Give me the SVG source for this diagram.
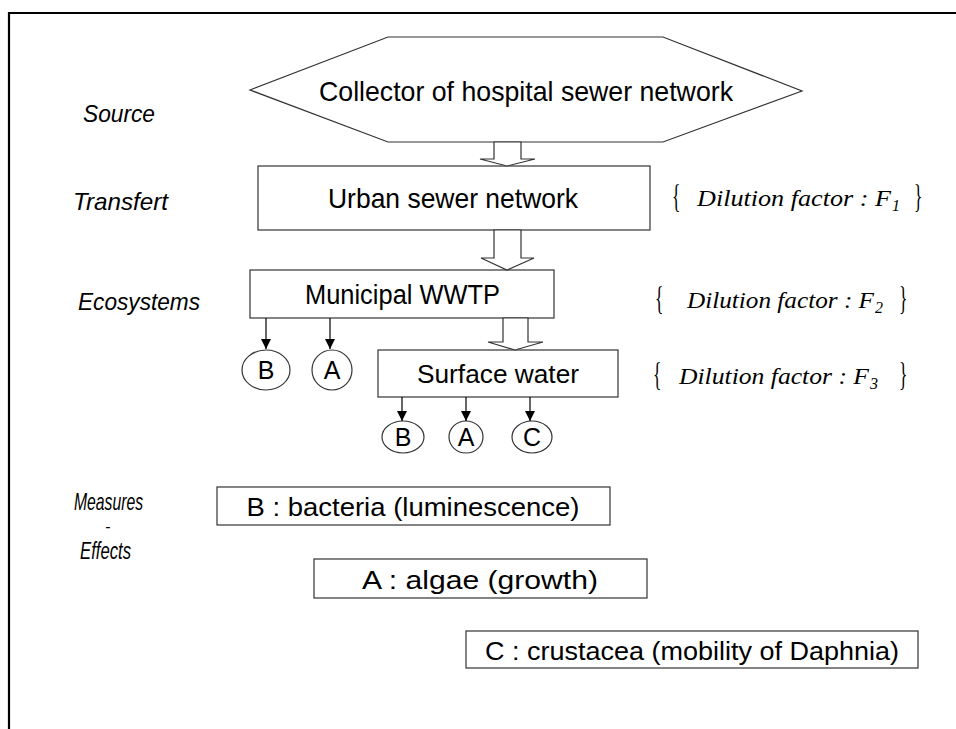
<svg xmlns="http://www.w3.org/2000/svg" width="956" height="729" viewBox="0 0 956 729">
<style>
.frame{fill:none;stroke:#000;stroke-width:2.2}
.box{fill:#fff;stroke:#333;stroke-width:1.2}
.hollow{fill:#fff;stroke:#333;stroke-width:1.2}
.t{font-family:"Liberation Sans",Arial,sans-serif;fill:#000}
.lbl{font-family:"Liberation Sans",Arial,sans-serif;font-style:italic;fill:#000;font-size:24px}
.math{font-family:"Liberation Serif","Times New Roman",serif;font-style:italic;fill:#000;font-size:24px}
.sub{font-family:"Liberation Serif","Times New Roman",serif;font-style:italic;fill:#000;font-size:16px}
.brace{font-family:"Liberation Serif","Times New Roman",serif;fill:#000;font-size:22px}
.link{stroke:#000;stroke-width:1.2;fill:none}
</style>
<defs>
<marker id="ah" markerWidth="10" markerHeight="11" refX="10" refY="5" orient="auto" markerUnits="userSpaceOnUse">
<path d="M0,0 L10,5 L0,10 Z" fill="#000"/>
</marker>
</defs>
<path class="frame" d="M9,729 V13 H956"/>

<g id="labels">
<text class="lbl" x="83" y="122" textLength="72" lengthAdjust="spacingAndGlyphs">Source</text>
<text class="lbl" x="73" y="210" textLength="95" lengthAdjust="spacingAndGlyphs">Transfert</text>
<text class="lbl" x="78" y="310" textLength="122" lengthAdjust="spacingAndGlyphs">Ecosystems</text>
<text class="lbl" x="74" y="510" textLength="69" lengthAdjust="spacingAndGlyphs">Measures</text>
<text class="lbl" x="105" y="532" font-size="16" style="font-size:16px">-</text>
<text class="lbl" x="80" y="559" textLength="51" lengthAdjust="spacingAndGlyphs">Effects</text>
</g>

<g id="collector">
<polygon class="box" points="250,90 388,37 663,37 802,91 663,142 388,142"/>
<text class="t" x="319" y="101" font-size="28" textLength="414" lengthAdjust="spacingAndGlyphs">Collector of hospital sewer network</text>
</g>

<g id="urban">
<rect class="box" x="258" y="166" width="392" height="64"/>
<text class="t" x="328" y="208" font-size="28" textLength="250" lengthAdjust="spacingAndGlyphs">Urban sewer network</text>
</g>

<g id="wwtp">
<rect class="box" x="250" y="270" width="304" height="48"/>
<text class="t" x="305" y="304" font-size="27" textLength="195" lengthAdjust="spacingAndGlyphs">Municipal WWTP</text>
</g>

<g id="surface">
<rect class="box" x="378" y="350" width="240" height="47"/>
<text class="t" x="417" y="383" font-size="26" textLength="162" lengthAdjust="spacingAndGlyphs">Surface water</text>
</g>

<g id="f1">
<text class="brace" transform="translate(672,207) scale(0.8,1.5)">{</text>
<text class="math" x="697" y="206" textLength="194" lengthAdjust="spacingAndGlyphs">Dilution  factor : F</text>
<text class="sub" x="892" y="211">1</text>
<text class="brace" transform="translate(914,207) scale(0.8,1.5)">}</text>
</g>
<g id="f2">
<text class="brace" transform="translate(655,309) scale(0.8,1.5)">{</text>
<text class="math" x="687" y="308" textLength="187" lengthAdjust="spacingAndGlyphs">Dilution factor : F</text>
<text class="sub" x="875" y="313">2</text>
<text class="brace" transform="translate(899,309) scale(0.8,1.5)">}</text>
</g>
<g id="f3">
<text class="brace" transform="translate(653,385) scale(0.8,1.5)">{</text>
<text class="math" x="679" y="384" textLength="190" lengthAdjust="spacingAndGlyphs">Dilution  factor : F</text>
<text class="sub" x="870" y="389">3</text>
<text class="brace" transform="translate(899,385) scale(0.8,1.5)">}</text>
</g>

<g id="circle-b1"><ellipse class="box" cx="266" cy="370" rx="24" ry="20"/><text class="t" x="266" y="379" font-size="25" text-anchor="middle">B</text></g>
<g id="circle-a1"><ellipse class="box" cx="332" cy="370" rx="20" ry="20"/><text class="t" x="332" y="379" font-size="25" text-anchor="middle">A</text></g>
<g id="circle-b2"><ellipse class="box" cx="403" cy="437" rx="21" ry="16"/><text class="t" x="403" y="446" font-size="25" text-anchor="middle">B</text></g>
<g id="circle-a2"><ellipse class="box" cx="466" cy="437" rx="17" ry="16"/><text class="t" x="466" y="446" font-size="25" text-anchor="middle">A</text></g>
<g id="circle-c2"><ellipse class="box" cx="532" cy="437" rx="20" ry="16"/><text class="t" x="532" y="446" font-size="25" text-anchor="middle">C</text></g>

<g id="legend-b">
<rect class="box" x="217" y="487" width="393" height="38"/>
<text class="t" x="413" y="516" font-size="26" text-anchor="middle" textLength="333" lengthAdjust="spacingAndGlyphs">B : bacteria (luminescence)</text>
</g>
<g id="legend-a">
<rect class="box" x="314" y="559" width="333" height="39"/>
<text class="t" x="480" y="589" font-size="26" text-anchor="middle" textLength="236" lengthAdjust="spacingAndGlyphs">A : algae (growth)</text>
</g>
<g id="legend-c">
<rect class="box" x="466" y="631" width="452" height="37"/>
<text class="t" x="692" y="660" font-size="26" text-anchor="middle" textLength="414" lengthAdjust="spacingAndGlyphs">C : crustacea (mobility of Daphnia)</text>
</g>

<g id="connectors">
<polygon class="hollow" points="494,142 494,159 480,159 507,166 535,159 521,159 521,142"/>
<polygon class="hollow" points="494,230 494,258 481,258 507,270 534,258 521,258 521,230"/>
<polygon class="hollow" points="503,318 503,342 488,342 515,350 543,342 528,342 528,318"/>
<line class="link" x1="266" y1="318" x2="266" y2="349" marker-end="url(#ah)"/>
<line class="link" x1="330" y1="318" x2="330" y2="349" marker-end="url(#ah)"/>
<line class="link" x1="402" y1="397" x2="402" y2="421" marker-end="url(#ah)"/>
<line class="link" x1="466" y1="397" x2="466" y2="421" marker-end="url(#ah)"/>
<line class="link" x1="530" y1="397" x2="530" y2="421" marker-end="url(#ah)"/>
</g>
</svg>
